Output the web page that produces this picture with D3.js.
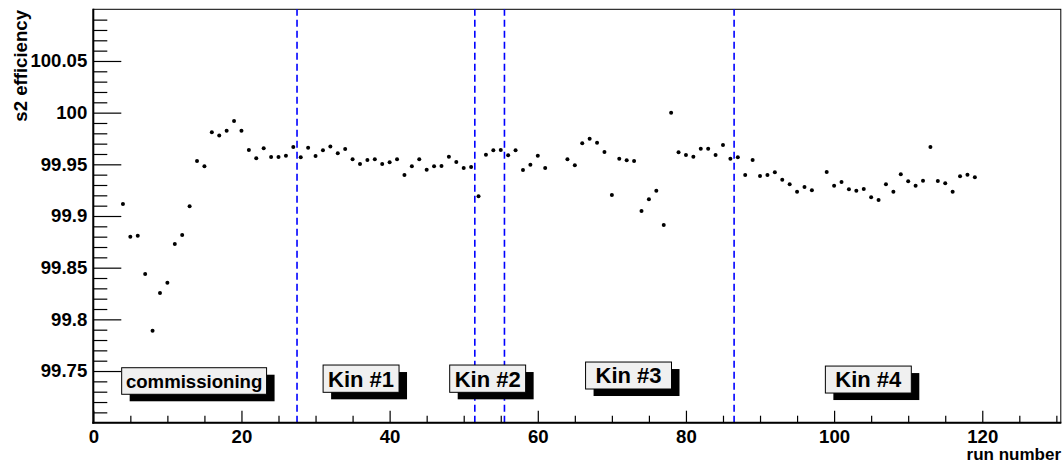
<!DOCTYPE html>
<html><head><meta charset="utf-8">
<script src="https://cdn.jsdelivr.net/npm/d3@7"></script>
<style>
html,body{margin:0;padding:0;background:#fff;}
svg{display:block;font-family:"Liberation Sans",Arial,Helvetica,sans-serif;font-weight:bold;}
</style></head>
<body><svg id="c" width="1062" height="465"></svg>
<script>
const runs = [4,5,6,7,8,9,10,11,12,13,14,15,16,17,18,19,20,21,22,23,24,25,26,27,28,29,30,31,32,33,34,35,36,37,38,39,40,41,42,43,44,45,46,47,48,49,50,51,52,53,54,55,56,57,58,59,60,61,
64,65,66,67,68,69,70,71,72,73,74,75,76,77,78,79,80,81,82,83,84,85,86,87,88,89,90,91,92,93,94,95,96,97,
99,100,101,102,103,104,105,106,107,108,109,110,111,112,113,114,115,116,117,118,119];
const efficiency = [99.9116,99.880,99.881,99.844,99.789,99.8255,99.8355,99.873,99.8816,99.9094,99.9532,99.9481,99.981,99.978,99.9825,99.9919,99.9825,99.9639,99.9558,99.9655,99.9571,99.9571,99.9584,99.9668,99.9568,99.9661,99.958,99.9636,99.9672,99.9607,99.9648,99.9549,99.9503,99.9542,99.9549,99.9503,99.952,99.9549,99.9397,99.9481,99.9549,99.9448,99.9481,99.9484,99.9574,99.9523,99.9465,99.9474,99.9191,99.9593,99.9636,99.9639,99.9587,99.9636,99.9445,99.9496,99.9584,99.9465,
99.9549,99.9491,99.9703,99.9748,99.9709,99.9619,99.9203,99.9555,99.9539,99.9532,99.9048,99.9162,99.9245,99.8913,99.9999,99.9616,99.959,99.9574,99.9651,99.9651,99.959,99.9687,99.9555,99.9568,99.9397,99.9542,99.9387,99.9397,99.9423,99.9351,99.9307,99.9235,99.9281,99.9249,
99.9426,99.9293,99.9329,99.9258,99.9245,99.9261,99.9181,99.9155,99.9307,99.9235,99.9403,99.9336,99.9293,99.9342,99.9668,99.9339,99.9316,99.9235,99.9384,99.94,99.9374];
const boundaries = [27.5, 51.5, 55.5, 86.5];
const periodNames = ["commissioning","Kin #1","Kin #2","Kin #3","Kin #4"];
const periodX0 = [3.83, 31.02, 48.11, 66.45, 98.82];
const periodX1 = [23.39, 41.27, 58.36, 78.05, 110.42];
const periodYTop = [99.7532, 99.7558, 99.7558, 99.7587, 99.7548];
const periodYBot = [99.7275, 99.7294, 99.7294, 99.7326, 99.7287];
const xDomain = [0, 130.6];
const yDomain = [99.70, 100.10];
const xTicks = [0,20,40,60,80,100,120];
const xTickLabels = ["0","20","40","60","80","100","120"];
const xMinorTicks = [5,10,15,25,30,35,45,50,55,65,70,75,85,90,95,105,110,115,125,130];
const yTicks = [99.75,99.8,99.85,99.9,99.95,100,100.05];
const yTickLabels = ["99.75","99.8","99.85","99.9","99.95","100","100.05"];
const yMinorTicks = [99.71,99.72,99.73,99.74,99.76,99.77,99.78,99.79,99.81,99.82,99.83,99.84,99.86,99.87,99.88,99.89,99.91,99.92,99.93,99.94,99.96,99.97,99.98,99.99,100.01,100.02,100.03,100.04,100.06,100.07,100.08,100.09];
const xTitle = "run number";
const yTitle = "s2 efficiency";

const W = 1062, H = 465;
const m = {l:93.3, r:1.2, t:9.3, b:42.3};
const svg = d3.select("#c");
const x = d3.scaleLinear().domain(xDomain).range([m.l, W - m.r]);
const y = d3.scaleLinear().domain(yDomain).range([H - m.b, m.t]);
const FS = 18.6;

// frame
svg.append("rect").attr("x", m.l).attr("y", m.t).attr("width", W-m.r-m.l).attr("height", H-m.b-m.t)
  .attr("fill","#fff").attr("stroke","#000").attr("stroke-width",1);

// boundaries
svg.append("g").selectAll("line").data(boundaries).join("line")
  .attr("x1", d=>x(d)).attr("x2", d=>x(d)).attr("y1", y(yDomain[0])).attr("y2", y(yDomain[1]))
  .attr("stroke","#0000ff").attr("stroke-width",1.6).attr("stroke-dasharray","7,4");

// axes
const yMajor = d3.axisLeft(y).tickValues(yTicks).tickSize(-28).tickPadding(6)
  .tickFormat((d,i)=>yTickLabels[i]);
const gy = svg.append("g").attr("transform",`translate(${m.l},0)`).call(yMajor);
const gym = svg.append("g").attr("transform",`translate(${m.l},0)`)
  .call(d3.axisLeft(y).tickValues(yMinorTicks).tickSize(-14).tickFormat(""));
const xMajor = d3.axisBottom(x).tickValues(xTicks).tickSize(-12).tickPadding(7)
  .tickFormat((d,i)=>xTickLabels[i]);
const gx = svg.append("g").attr("transform",`translate(0,${H-m.b})`).call(xMajor);
const gxm = svg.append("g").attr("transform",`translate(0,${H-m.b})`)
  .call(d3.axisBottom(x).tickValues(xMinorTicks).tickSize(-7).tickFormat(""));
[gy,gym,gx,gxm].forEach(g=>{
  g.select(".domain").remove();
  g.selectAll(".tick line").attr("stroke","#000").attr("stroke-width",1.2);
  g.selectAll("text").attr("font-size",FS).attr("font-weight","bold").attr("fill","#000")
    .attr("font-family",'"Liberation Sans",Arial,sans-serif');
});
// thick left & bottom axis lines
svg.append("line").attr("x1",m.l).attr("x2",m.l).attr("y1",m.t-0.5).attr("y2",H-m.b+1)
  .attr("stroke","#000").attr("stroke-width",2);
svg.append("line").attr("x1",m.l-1).attr("x2",W-m.r+0.5).attr("y1",H-m.b).attr("y2",H-m.b)
  .attr("stroke","#000").attr("stroke-width",2);

// points
svg.append("g").selectAll("circle").data(runs.map((r,i)=>[r,efficiency[i]])).join("circle")
  .attr("cx", d=>x(d[0])).attr("cy", d=>y(d[1])).attr("r",2).attr("fill","#000");

// period labels
const lab = svg.append("g");
periodNames.forEach((name,i)=>{
  const x0 = x(periodX0[i]), x1 = x(periodX1[i]), y0 = y(periodYTop[i]), y1 = y(periodYBot[i]);
  lab.append("rect").attr("x",x0+8).attr("y",y0+7).attr("width",x1-x0).attr("height",y1-y0).attr("fill","#000");
  lab.append("rect").attr("x",x0).attr("y",y0).attr("width",x1-x0).attr("height",y1-y0)
    .attr("fill","#f0f0f0").attr("stroke","#000").attr("stroke-width",1);
  lab.append("text").attr("x",(x0+x1)/2).attr("y",(y0+y1)/2).attr("dy","0.36em")
    .attr("text-anchor","middle").attr("font-size", i===0 ? FS : 22).attr("fill","#000").text(name);
});

// titles
svg.append("text").attr("x", W-1).attr("y", 460).attr("text-anchor","end")
  .attr("font-size",17).attr("fill","#000").text(xTitle);
svg.append("text").attr("transform","translate(27,10) rotate(-90)").attr("text-anchor","end")
  .attr("font-size",FS).attr("fill","#000").text(yTitle);
</script></body></html>
